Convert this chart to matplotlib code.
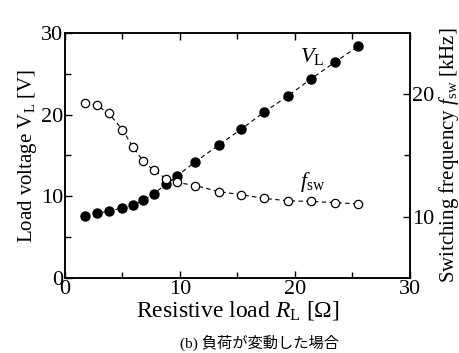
import matplotlib
matplotlib.use("Agg")
import matplotlib.pyplot as plt

plt.rcParams['font.family'] = ['Liberation Serif', 'Noto Sans CJK JP']
plt.rcParams['mathtext.fontset'] = 'custom'
plt.rcParams['mathtext.rm'] = 'Liberation Serif'
plt.rcParams['mathtext.it'] = 'Liberation Serif:italic'

# load resistance [ohm]
r_load = [1.75, 2.75, 3.8, 5.0, 5.9, 6.8, 7.7, 8.8, 9.75, 11.3, 13.4,
          15.3, 17.3, 19.4, 21.4, 23.45, 25.5]
# load voltage [V]
v_load = [7.6, 7.9, 8.2, 8.55, 8.9, 9.5, 10.3, 11.5, 12.5, 14.2, 16.3,
          18.2, 20.3, 22.3, 24.4, 26.4, 28.4]
# switching frequency [kHz]
f_sw = [19.3, 19.1, 18.45, 17.1, 15.7, 14.55, 13.8, 13.1, 12.8, 12.55, 12.05,
        11.8, 11.5, 11.3, 11.25, 11.15, 11.05]

fig = plt.figure(figsize=(4.6, 3.53), dpi=100)
ax = fig.add_axes([0.1413, 0.2125, 0.75, 0.694])
ax2 = ax.twinx()

ls = (0, (4, 3))
ax.plot(r_load, v_load, linestyle=ls, color='black', lw=0.8,
        marker='o', ms=6.5, mfc='black', mec='black')
ax2.plot(r_load, f_sw, linestyle=ls, color='black', lw=0.8,
         marker='o', ms=6, mfc='white', mec='black', mew=0.9)

ax.set_xlim(0, 30)
ax.set_ylim(0, 30)
ax2.set_ylim(5, 25)
ax.set_xticks([0, 10, 20, 30])
ax.set_xticks([5, 15, 25], minor=True)
ax.set_yticks([0, 10, 20, 30])
ax.set_yticks([5, 15, 25], minor=True)
ax2.set_yticks([10, 20])
ax2.set_yticks([15], minor=True)

ax.tick_params(which='both', direction='in', top=True, right=False,
               labelsize=16, width=1, pad=1.5)
ax.tick_params(which='major', length=5)
ax.tick_params(which='minor', length=4)
ax2.tick_params(which='both', direction='in', labelsize=16, width=1, pad=1.5)
ax2.tick_params(which='major', length=5)
ax2.tick_params(which='minor', length=4)
for sp in ax.spines.values():
    sp.set_linewidth(1.1)
for sp in ax2.spines.values():
    sp.set_linewidth(1.1)

ax.set_xlabel(r'Resistive load $R_{\rm L}$ [$\Omega$]', fontsize=17, labelpad=0)
ax.set_ylabel(r'Load voltage V$_{\rm L}$ [V]', fontsize=15, labelpad=1)
ax2.set_ylabel(r'Switching frequency $f_{\rm sw}$ [kHz]', fontsize=15, labelpad=2)

ax.text(20.4, 26.4, r'$V_{\rm L}$', fontsize=16)
ax.text(20.4, 11.2, r'$f_{\rm sw}$', fontsize=16)

fig.text(0.565, 0.015, '(b) 負荷が変動した場合', fontsize=11, ha='center',
         family=['Liberation Serif', 'Noto Sans CJK JP'])

fig.savefig('out.png', dpi=100)
